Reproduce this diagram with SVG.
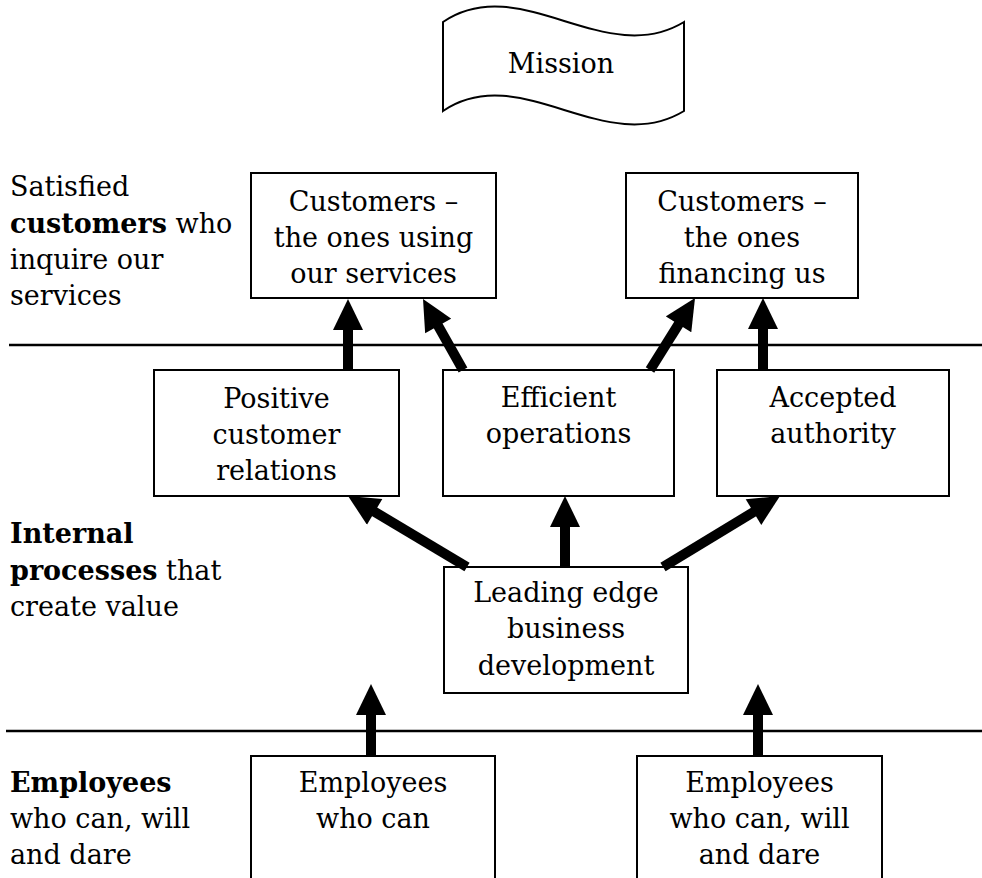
<svg xmlns="http://www.w3.org/2000/svg" width="982" height="878" viewBox="0 0 982 878">
<style>
.box{fill:#fff;stroke:#000;stroke-width:2}
.t{font-family:"DejaVu Serif","Liberation Serif",serif;font-size:27px;fill:#000}
.c{text-anchor:middle}
.b{font-weight:bold}
.sep{stroke:#000;stroke-width:2.5}
.arr{stroke:#000;stroke-width:10;fill:none;marker-end:url(#ah)}
</style>
<defs>
<marker id="ah" markerUnits="userSpaceOnUse" markerWidth="32" markerHeight="30" refX="11" refY="15" orient="auto" viewBox="0 0 31 30"><path d="M0,0 L31,15 L0,30 z" fill="#000"/></marker>
</defs>
<rect width="982" height="878" fill="#fff"/>
<g id="separators">
<line class="sep" x1="9" y1="345" x2="982" y2="345"/>
<line class="sep" x1="6" y1="731" x2="982" y2="731"/>
</g>
<g id="mission">
<path d="M443,22 C520,-30 605,70 684,22 L684,111 C605,159 520,59 443,111 Z" fill="#fff" stroke="#000" stroke-width="2"/>
<text class="t c" x="561" y="73">Mission</text>
</g>
<g id="label-customers">
<text class="t" x="10" y="196">Satisfied</text>
<text class="t" x="10" y="233"><tspan class="b">customers</tspan> who</text>
<text class="t" x="10" y="269">inquire our</text>
<text class="t" x="10" y="305">services</text>
</g>
<g id="label-internal">
<text class="t b" x="10" y="543">Internal</text>
<text class="t" x="10" y="580"><tspan class="b">processes</tspan> that</text>
<text class="t" x="10" y="616">create value</text>
</g>
<g id="label-employees">
<text class="t b" x="10" y="792">Employees</text>
<text class="t" x="10" y="828">who can, will</text>
<text class="t" x="10" y="864">and dare</text>
</g>
<g id="cust-using">
<rect class="box" x="251" y="173" width="245" height="125"/>
<text class="t c" x="373.5" y="211">Customers –</text>
<text class="t c" x="373.5" y="247">the ones using</text>
<text class="t c" x="373.5" y="283">our services</text>
</g>
<g id="cust-financing">
<rect class="box" x="626" y="173" width="232" height="125"/>
<text class="t c" x="742" y="211">Customers –</text>
<text class="t c" x="742" y="247">the ones</text>
<text class="t c" x="742" y="283">financing us</text>
</g>
<g id="positive">
<rect class="box" x="154" y="370" width="245" height="126"/>
<text class="t c" x="276.5" y="408">Positive</text>
<text class="t c" x="276.5" y="444">customer</text>
<text class="t c" x="276.5" y="480">relations</text>
</g>
<g id="efficient">
<rect class="box" x="443" y="370" width="231" height="126"/>
<text class="t c" x="558.5" y="407">Efficient</text>
<text class="t c" x="558.5" y="443">operations</text>
</g>
<g id="accepted">
<rect class="box" x="717" y="370" width="232" height="126"/>
<text class="t c" x="833" y="407">Accepted</text>
<text class="t c" x="833" y="443">authority</text>
</g>
<g id="leading">
<rect class="box" x="444" y="567" width="244" height="126"/>
<text class="t c" x="566" y="602">Leading edge</text>
<text class="t c" x="566" y="638">business</text>
<text class="t c" x="566" y="675">development</text>
</g>
<g id="emp-can">
<rect class="box" x="251" y="756" width="244" height="140"/>
<text class="t c" x="373" y="792">Employees</text>
<text class="t c" x="373" y="828">who can</text>
</g>
<g id="emp-can-will-dare">
<rect class="box" x="637" y="756" width="245" height="140"/>
<text class="t c" x="759.5" y="792">Employees</text>
<text class="t c" x="759.5" y="828">who can, will</text>
<text class="t c" x="759.5" y="864">and dare</text>
</g>
<g id="connectors">
<path class="arr" d="M348,370 L348,319"/>
<path class="arr" d="M463,370 L432.8,316.4"/>
<path class="arr" d="M650,370 L684.4,315"/>
<path class="arr" d="M763,370 L763,318"/>
<path class="arr" d="M467,567 L365.2,506.2"/>
<path class="arr" d="M565,567 L565,516"/>
<path class="arr" d="M663,567 L762.9,506.4"/>
<path class="arr" d="M371,756 L371,704"/>
<path class="arr" d="M758,756 L758,704"/>
</g>
</svg>
